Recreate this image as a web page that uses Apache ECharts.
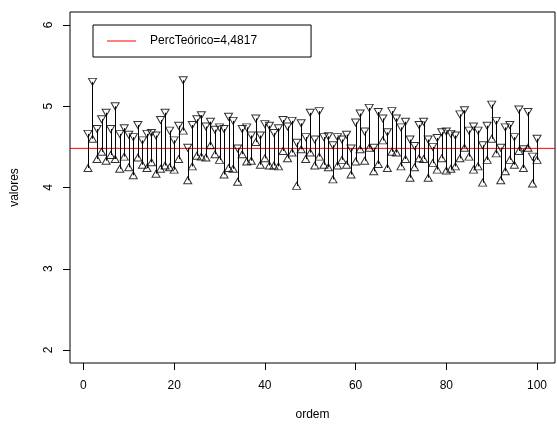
<!DOCTYPE html>
<html>
<head>
<meta charset="utf-8">
<script src="https://cdn.jsdelivr.net/npm/echarts@6/dist/echarts.min.js"></script>
<style>
html,body{margin:0;padding:0;background:#fff;}
#c{width:557px;height:426px;}
</style>
</head>
<body>
<div id="c"></div>
<script>
// ---- data ----
const ordem = Array.from({length: 100}, (_, k) => k + 1);
const superior = [
  4.66, 5.30, 4.72, 4.84, 4.92, 4.72, 5.00, 4.66, 4.73, 4.65,
  4.62, 4.77, 4.58, 4.66, 4.67, 4.64, 4.83, 4.92, 4.70, 4.58,
  4.76, 5.32, 4.49, 4.77, 4.84, 4.89, 4.75, 4.81, 4.71, 4.74,
  4.72, 4.87, 4.82, 4.48, 4.72, 4.74, 4.64, 4.85, 4.64, 4.78,
  4.76, 4.67, 4.73, 4.83, 4.75, 4.82, 4.55, 4.79, 4.62, 4.92,
  4.59, 4.94, 4.62, 4.63, 4.52, 4.62, 4.59, 4.65, 4.48, 4.80,
  4.91, 4.69, 4.98, 4.49, 4.93, 4.85, 4.68, 4.94, 4.85, 4.74,
  4.81, 4.59, 4.51, 4.77, 4.81, 4.59, 4.50, 4.61, 4.68, 4.69,
  4.66, 4.64, 4.90, 4.95, 4.70, 4.75, 4.70, 4.52, 4.76, 5.02,
  4.82, 4.49, 4.74, 4.77, 4.62, 4.96, 4.47, 4.93, 4.38, 4.60
];
const inferior = [
  4.24, 4.60, 4.35, 4.44, 4.33, 4.40, 4.35, 4.23, 4.38, 4.25,
  4.15, 4.37, 4.28, 4.24, 4.31, 4.17, 4.23, 4.27, 4.25, 4.22,
  4.35, 4.70, 4.09, 4.26, 4.39, 4.38, 4.37, 4.52, 4.41, 4.34,
  4.16, 4.24, 4.23, 4.07, 4.41, 4.32, 4.33, 4.56, 4.28, 4.36,
  4.27, 4.27, 4.26, 4.45, 4.36, 4.43, 4.02, 4.47, 4.35, 4.43,
  4.27, 4.38, 4.28, 4.25, 4.10, 4.27, 4.34, 4.28, 4.16, 4.32,
  4.47, 4.33, 4.49, 4.20, 4.29, 4.58, 4.24, 4.44, 4.43, 4.26,
  4.35, 4.12, 4.25, 4.36, 4.35, 4.12, 4.30, 4.22, 4.36, 4.21,
  4.23, 4.26, 4.36, 4.49, 4.38, 4.22, 4.26, 4.06, 4.34, 4.60,
  4.42, 4.09, 4.20, 4.34, 4.28, 4.45, 4.24, 4.49, 4.05, 4.34
];
const percTeorico = 4.4817;
const legendLabel = 'PercTeórico=4,4817';
const xTicks = [0, 20, 40, 60, 80, 100];
const yTicks = [2, 3, 4, 5, 6];
const xRange = [1, 100];
const yRange = [2, 6];

// ---- chart ----
const xPad = (xRange[1] - xRange[0]) * 0.04;
const yPad = (yRange[1] - yRange[0]) * 0.04;
const xMin = xRange[0] - xPad, xMax = xRange[1] + xPad;
const yMin = yRange[0] - yPad, yMax = yRange[1] + yPad;
const FONT = 'Liberation Sans, Arial, Helvetica, sans-serif';

const stems = ordem.map((x, k) => [x, inferior[k], superior[k]]);
const upPts = ordem.map((x, k) => [x, superior[k]]);
const lowPts = ordem.map((x, k) => [x, inferior[k]]);

const chart = echarts.init(document.getElementById('c'), null, {renderer: 'canvas'});
chart.setOption({
  animation: false,
  backgroundColor: '#fff',
  textStyle: {fontFamily: FONT},
  grid: {left: 70, top: 12, right: 2, bottom: 61, show: true, borderColor: '#000', borderWidth: 1, backgroundColor: 'transparent'},
  legend: {
    left: 93, top: 25,
    orient: 'horizontal',
    data: [{name: legendLabel, icon: 'rect'}],
    itemWidth: 29, itemHeight: 1,
    padding: [10, 54, 10, 14],
    borderColor: '#000', borderWidth: 1,
    textStyle: {fontFamily: FONT, fontSize: 12, color: '#000', padding: [0, 0, 0, 9]},
    selectedMode: false
  },
  xAxis: {
    type: 'value', min: xMin, max: xMax,
    name: 'ordem', nameLocation: 'middle', nameGap: 46,
    nameTextStyle: {fontFamily: FONT, fontSize: 12, color: '#000'},
    axisLine: {show: false, onZero: false},
    axisTick: {show: true, inside: false, length: 7, lineStyle: {color: '#000', width: 1}, customValues: xTicks},
    axisLabel: {show: true, margin: 17, fontFamily: FONT, fontSize: 12, color: '#000', customValues: xTicks},
    splitLine: {show: false}
  },
  yAxis: {
    type: 'value', min: yMin, max: yMax,
    name: 'valores', nameLocation: 'middle', nameGap: 49,
    nameTextStyle: {fontFamily: FONT, fontSize: 12, color: '#000'},
    axisLine: {show: false, onZero: false},
    axisTick: {show: true, inside: false, length: 7, lineStyle: {color: '#000', width: 1}, customValues: yTicks},
    axisLabel: {show: true, rotate: 90, margin: 15, fontFamily: FONT, fontSize: 12, color: '#000', customValues: yTicks},
    splitLine: {show: false}
  },
  series: [
    {
      type: 'custom', name: 'stems', silent: true,
      data: stems,
      encode: {x: 0, y: [1, 2]},
      renderItem: function (params, api) {
        const x = api.value(0);
        const a = api.coord([x, api.value(1)]);
        const b = api.coord([x, api.value(2)]);
        const px = Math.round(a[0]) + 0.5;
        return {type: 'line', shape: {x1: px, y1: a[1], x2: px, y2: b[1]}, style: {stroke: '#000', lineWidth: 1}};
      },
      z: 2
    },
    {
      type: 'scatter', name: 'superior', data: upPts,
      symbol: 'triangle', symbolRotate: 180, symbolSize: [8, 7],
      itemStyle: {color: 'rgba(255,255,255,0)', borderColor: '#000', borderWidth: 1},
      z: 3
    },
    {
      type: 'scatter', name: 'inferior', data: lowPts,
      symbol: 'triangle', symbolSize: [8, 7],
      itemStyle: {color: 'rgba(255,255,255,0)', borderColor: '#000', borderWidth: 1},
      z: 3
    },
    {
      type: 'line', name: legendLabel,
      data: [[xMin, percTeorico], [xMax, percTeorico]],
      showSymbol: false, symbol: 'none',
      lineStyle: {color: '#ff0000', width: 1},
      itemStyle: {color: '#ff0000'},
      z: 1
    }
  ]
});
</script>
</body>
</html>
